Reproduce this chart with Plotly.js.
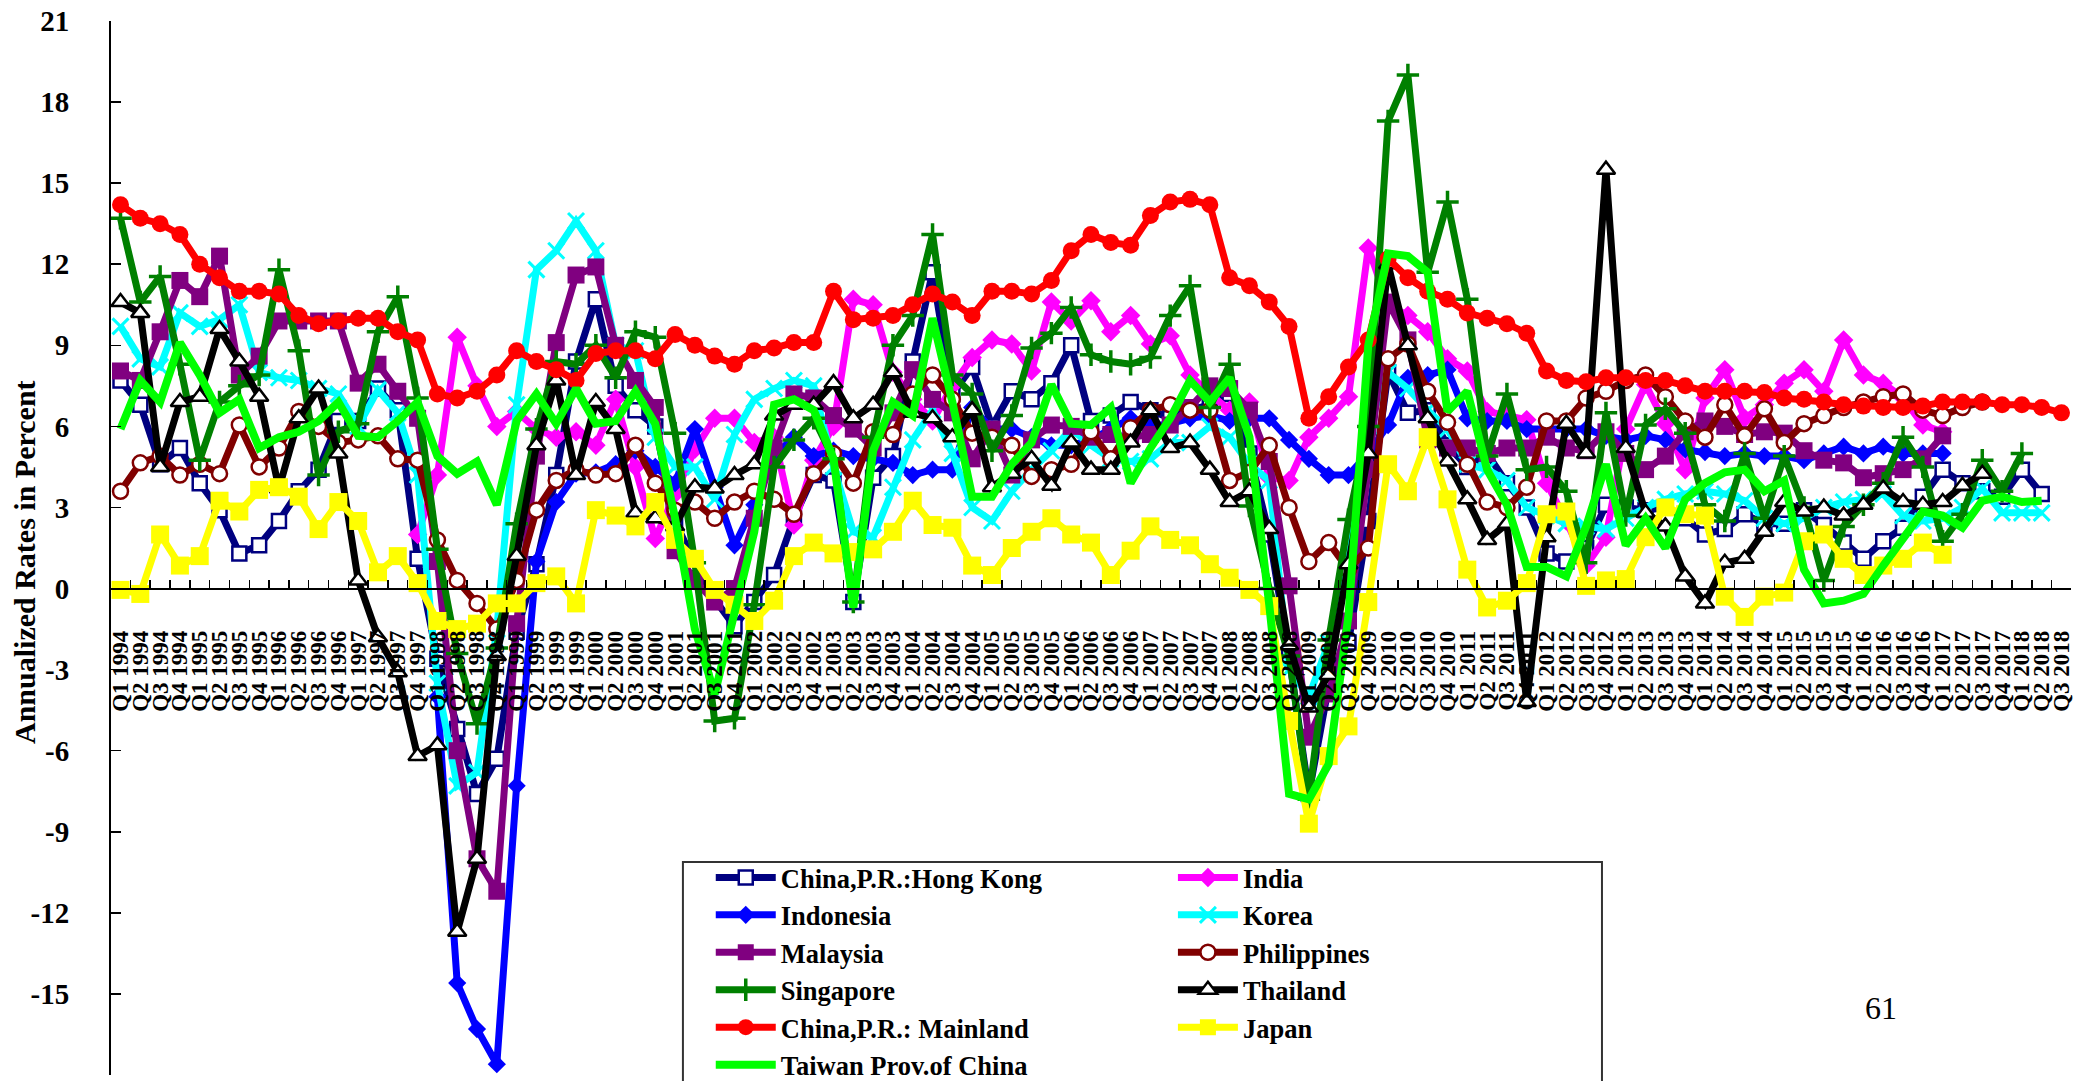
<!DOCTYPE html>
<html>
<head>
<meta charset="utf-8">
<script src="https://cdn.plot.ly/plotly-3.0.1.min.js"></script>
<style>
  html, body { margin: 0; padding: 0; background: #ffffff; }
  #chart { width: 2080px; height: 1081px; }
</style>
</head>
<body>
<div id="chart"></div>
<script>
// Quarter labels, Q1 1994 .. Q3 2018
const quarters = [
  "Q1 1994","Q2 1994","Q3 1994","Q4 1994","Q1 1995","Q2 1995","Q3 1995","Q4 1995",
  "Q1 1996","Q2 1996","Q3 1996","Q4 1996","Q1 1997","Q2 1997","Q3 1997","Q4 1997",
  "Q1 1998","Q2 1998","Q3 1998","Q4 1998","Q1 1999","Q2 1999","Q3 1999","Q4 1999",
  "Q1 2000","Q2 2000","Q3 2000","Q4 2000","Q1 2001","Q2 2001","Q3 2001","Q4 2001",
  "Q1 2002","Q2 2002","Q3 2002","Q4 2002","Q1 2003","Q2 2003","Q3 2003","Q4 2003",
  "Q1 2004","Q2 2004","Q3 2004","Q4 2004","Q1 2005","Q2 2005","Q3 2005","Q4 2005",
  "Q1 2006","Q2 2006","Q3 2006","Q4 2006","Q1 2007","Q2 2007","Q3 2007","Q4 2007",
  "Q1 2008","Q2 2008","Q3 2008","Q4 2008","Q1 2009","Q2 2009","Q3 2009","Q4 2009",
  "Q1 2010","Q2 2010","Q3 2010","Q4 2010","Q1 2011","Q2 2011","Q3 2011","Q4 2011",
  "Q1 2012","Q2 2012","Q3 2012","Q4 2012","Q1 2013","Q2 2013","Q3 2013","Q4 2013",
  "Q1 2014","Q2 2014","Q3 2014","Q4 2014","Q1 2015","Q2 2015","Q3 2015","Q4 2015",
  "Q1 2016","Q2 2016","Q3 2016","Q4 2016","Q1 2017","Q2 2017","Q3 2017","Q4 2017",
  "Q1 2018","Q2 2018","Q3 2018"
];

// Annualized growth rates, percent (one value per quarter, starting Q1 1994)
const hongKong = [
  7.7, 6.8, 4.6, 5.2, 3.9, 2.9, 1.3, 1.6, 2.5, 3.6, 4.4, 6.2, 6.2, 7.4, 6.6, 1.1, -2.6,
  -5.2, -7.6, -6.3, -1.6, 0.9, 4.2, 8.4, 10.7, 7.5, 6.6, 6.0, 2.5, 0.9, -0.4, -1.4, -0.5, 0.5,
  2.6, 4.2, 4.0, -0.5, 4.1, 4.9, 8.4, 11.7, 7.2, 8.2, 6.0, 7.3, 7.0, 7.6, 9.0, 6.2,
  6.4, 6.9, 6.6, 6.3, 6.6, 6.8, 7.2, 5.0, 2.0, -2.5, -7.6, -3.6, -2.0, 2.5, 8.0, 6.5, 6.6,
  5.3, 4.5, 5.0, 3.9, 3.0, 1.3, 1.0, 1.5, 3.1, 3.0, 2.9, 3.0, 2.6, 2.0,
  2.2, 2.75, 2.4, 2.4, 2.9, 2.35, 1.7, 1.1, 1.75, 2.25, 3.4, 4.4, 3.9, 3.6, 3.4, 4.4, 3.5
];
const india = [
  null, null, null, null, null, null, null, null, null, null, null, null, null, null, null,
  2.0, 4.2, 9.3, 7.5, 6.0, 6.55, 5.9, 5.6, 5.8, 5.3, 7.0, 4.5, 1.85, 3.5, 5.15, 6.3, 6.3, 5.4, 5.6,
  2.35, 4.75, 6.0, 10.7, 10.5, 8.0, 7.0, 6.2, 7.5, 8.55, 9.2, 9.05, 8.05, 10.6, 9.9,
  10.65, 9.5, 10.1, 9.05, 9.35, 7.9, 7.2, 6.6, 6.9, 4.1, 4.0, 5.6, 6.3, 7.1, 12.6, 10.5,
  10.1, 9.5, 8.5, 8.05, 6.55, 6.4, 6.25, 3.9, 2.5, 0.85, 1.9, 5.9, 7.55, 6.1, 4.4, 7.05,
  8.1, 6.3, 6.8, 7.6, 8.1, 7.3, 9.2, 7.9, 7.6, 7.05, 6.05, 5.8
];
const indonesia = [
  null, null, null, null, null, null, null, null, null, null, null, null, null, null, null, null,
  -4.0, -14.6, -16.3, -17.6, -7.3, 1.0, 3.2, 4.25, 4.3, 4.6, 5.1, 4.5, 3.9, 5.9, 3.75, 1.6, 3.1, 4.9,
  5.6, 4.9, 5.1, 4.9, 4.8, 4.65, 4.2, 4.4, 4.4, 6.7, 5.9, 5.9, 5.6, 5.3,
  5.3, 5.5, 5.9, 6.3, 6.0, 6.1, 6.3, 6.4, 6.2, 6.3, 6.3, 5.5, 4.8, 4.2, 4.2, 5.0, 6.05,
  7.8, 7.9, 8.1, 6.3, 6.2, 6.2, 5.9, 5.9, 5.9, 5.9, 5.65, 5.5, 5.65, 5.5, 5.15, 5.05,
  4.9, 5.0, 4.9, 4.9, 4.75, 5.0, 5.25, 5.0, 5.25, 5.0, 5.0, 5.0
];
const korea = [
  9.7, 8.5, 8.2, 10.2, 9.7, 9.95, 10.5, 8.0, 7.8, 7.7, 7.4, 7.2, 6.0, 7.35, 6.5, 4.2, -3.5,
  -7.3, -6.8, -1.5, 6.8, 11.8, 12.5, 13.6, 12.5, 9.0, 8.8, 5.6, 4.5, 4.5, 3.3, 5.7, 7.0, 7.4,
  7.7, 7.5, 4.5, 2.1, 1.9, 3.75, 5.5, 6.6, 5.0, 3.0, 2.5, 3.6, 4.4, 5.1, 5.9, 5.3,
  4.8, 4.7, 4.8, 5.4, 5.4, 6.0, 5.6, 4.6, 4.0, -3.0, -4.0, -2.0, 1.0, 6.0, 8.0, 7.4, 6.6,
  5.9, 4.6, 4.4, 4.0, 3.0, 2.7, 2.4, 2.3, 2.2, 2.6, 3.0, 3.3, 3.5, 3.6,
  3.5, 3.25, 2.6, 2.4, 2.6, 3.0, 3.2, 3.3, 3.5, 2.7, 2.5, 2.6, 3.0, 3.7, 2.8, 2.8, 2.8
];
const malaysia = [
  8.05, 7.7, 9.5, 11.4, 10.8, 12.3, 7.9, 8.6, 9.9, 9.9, 9.9, 9.9, 7.6, 8.3, 7.3, 6.3, 1.0,
  -6.0, -10.0, -11.2, -1.3, 4.9, 9.1, 11.6, 11.9, 9.0, 7.7, 6.7, 1.4, 0.3, -0.5, 0.0, 2.6, 5.2,
  7.2, 7.05, 6.4, 5.9, 5.2, 6.5, 8.1, 7.0, 6.5, 4.8, 5.9, 4.2, 5.5, 6.05, 6.0, 5.6, 5.7,
  5.6, 5.7, 6.05, 6.7, 7.5, 7.4, 6.6, 4.7, 0.1, -5.5, -3.9, -1.2, 4.4, 10.6, 9.2, 5.5,
  5.2, 5.2, 5.0, 5.2, 5.2, 5.6, 5.2, 5.1, 5.8, 5.0, 4.4, 4.9, 5.8, 6.2,
  6.0, 5.7, 5.8, 5.75, 5.1, 4.75, 4.65, 4.1, 4.25, 4.4, 4.8, 5.65
];
const philippines = [
  3.6, 4.65, 4.9, 4.2, 4.6, 4.25, 6.05, 4.5, 5.2, 6.55, 6.0, 5.4, 5.5, 5.65, 4.8, 4.75, 1.8,
  0.3, -0.55, -1.5, 0.3, 2.9, 4.0, 4.4, 4.2, 4.25, 5.3, 3.9, 2.9, 3.2, 2.6, 3.2, 3.6, 3.3,
  2.75, 4.25, 5.0, 3.9, 5.8, 5.7, 7.2, 7.9, 7.0, 5.75, 5.6, 5.3, 4.15, 4.4, 4.6, 5.8, 4.8,
  5.95, 6.6, 6.8, 6.6, 6.6, 4.0, 4.3, 5.3, 3.0, 1.0, 1.7, 0.7, 1.5, 8.5, 9.05, 7.3,
  6.15, 4.6, 3.2, 3.0, 3.75, 6.2, 6.2, 7.05, 7.3, 7.7, 7.9, 7.1, 6.2, 5.6,
  6.8, 5.65, 6.65, 5.4, 6.1, 6.4, 6.7, 6.9, 7.1, 7.2, 6.6, 6.4, 6.7, 6.9
];
const singapore = [
  13.7, 10.6, 11.55, 8.3, 4.75, 6.9, 7.5, 7.9, 11.8, 8.8, 4.2, 5.8, 6.1, 9.5, 10.8, 7.05, 1.45,
  -2.4, -5.0, -2.2, 2.4, 5.9, 8.4, 8.3, 9.0, 7.8, 9.5, 9.3, 5.75, 0.95, -4.9, -4.8, -0.6, 4.5,
  5.5, 6.3, 4.8, -0.5, 5.6, 9.0, 10.1, 13.1, 7.9, 7.2, 5.1, 6.4, 8.9, 9.45, 10.4, 8.65, 8.4,
  8.3, 8.55, 10.1, 11.2, 6.7, 8.3, 3.05, 0.0, -2.5, -7.8, -1.9, 2.55, 6.0, 17.3, 19.0, 11.7,
  14.3, 10.7, 4.9, 7.2, 4.4, 4.5, 3.6, 0.95, 6.5, 2.7, 6.05, 6.65, 5.75, 3.1, 2.5, 5.0,
  2.6, 4.9, 3.0, 0.3, 2.3, 3.1, 3.9, 5.6, 4.5, 1.75, 2.75, 4.75, 3.6, 5.0
];
const thailand = [
  10.6, 10.2, 4.5, 6.9, 7.1, 9.6, 8.4, 7.1, 3.7, 6.3, 7.4, 5.0, 0.3, -1.8, -3.1, -6.2, -5.8,
  -12.7, -10.0, -2.5, 1.2, 5.3, 7.7, 4.2, 6.9, 5.9, 2.8, 2.6, 2.3, 3.75, 3.7, 4.2, 4.6, 6.4,
  6.8, 6.8, 7.6, 6.3, 6.8, 8.0, 6.5, 6.3, 5.6, 6.6, 3.75, 4.25, 4.8, 3.8, 5.4, 4.4, 4.4,
  5.4, 6.6, 5.2, 5.4, 4.4, 3.2, 3.6, 2.2, -2.1, -4.4, -3.2, 0.9, 5.0, 12.0, 9.0, 6.3,
  4.7, 3.3, 1.8, 2.4, -4.2, 1.9, 6.1, 5.0, 15.5, 5.2, 2.8, 2.3, 0.45, -0.55, 0.95, 1.1,
  2.1, 3.2, 2.85, 3.0, 2.7, 3.1, 3.7, 3.2, 3.1, 3.2, 3.8, 4.25
];
const mainland = [
  14.2, 13.7, 13.5, 13.1, 12.0, 11.5, 11.0, 11.0, 10.9, 10.1, 9.8, 9.9, 10.0, 10.0, 9.5, 9.2, 7.2,
  7.05, 7.3, 7.9, 8.8, 8.4, 8.1, 7.7, 8.7, 8.8, 8.8, 8.5, 9.4, 9.0, 8.6, 8.3, 8.8,
  8.9, 9.1, 9.1, 11.0, 9.95, 10.0, 10.1, 10.5, 10.9, 10.6, 10.1, 11.0, 11.0, 10.9, 11.4, 12.5,
  13.1, 12.8, 12.7, 13.8, 14.3, 14.4, 14.2, 11.5, 11.2, 10.6, 9.7, 6.3, 7.1, 8.2, 9.2, 12.2,
  11.5, 11.0, 10.7, 10.2, 10.0, 9.8, 9.45, 8.05, 7.7, 7.65, 7.8, 7.8, 7.7, 7.7, 7.5, 7.3, 7.3, 7.3,
  7.25, 7.05, 7.0, 6.9, 6.8, 6.75, 6.7, 6.7, 6.75, 6.9, 6.9, 6.9, 6.8, 6.8, 6.7, 6.5
];
const japan = [
  -0.05, -0.2, 2.0, 0.85, 1.2, 3.25, 2.85, 3.65, 3.75, 3.4, 2.2, 3.2, 2.5, 0.6, 1.2, 0.2, -1.2,
  -1.5, -1.3, -0.55, -0.55, 0.2, 0.45, -0.55, 2.9, 2.7, 2.3, 3.2, 1.8, 1.1, -0.05, -0.6, -1.2,
  -0.45, 1.2, 1.7, 1.3, 1.35, 1.45, 2.1, 3.25, 2.35, 2.25, 0.85, 0.5, 1.5, 2.1, 2.6, 2.0,
  1.7, 0.5, 1.4, 2.3, 1.8, 1.6, 0.9, 0.4, -0.05, -0.65, -4.9, -8.7, -6.2, -5.1, -0.5, 4.6,
  3.6, 5.6, 3.3, 0.7, -0.7, -0.45, 0.2, 2.75, 2.85, 0.1, 0.3, 0.35, 1.9, 3.0, 2.75, 2.7,
  -0.3, -1.05, -0.3, -0.15, 1.75, 2.0, 1.1, 0.5, 0.85, 1.1, 1.7, 1.25
];
const taiwan = [
  5.9, 7.7, 6.9, 9.1, 7.9, 6.5, 7.0, 5.2, 5.6, 5.8, 6.2, 6.9, 5.65, 5.6, 6.2, 6.9, 4.9,
  4.25, 4.7, 3.1, 6.2, 7.2, 6.1, 7.4, 6.1, 6.2, 7.3, 6.1, 2.6, -1.5, -3.9, -1.0, 2.1, 6.8,
  7.0, 6.6, 4.8, -0.7, 5.1, 6.9, 6.4, 10.0, 6.9, 3.4, 3.4, 4.6, 5.4, 7.55, 6.1, 6.05, 6.7,
  3.9, 5.2, 6.3, 7.7, 6.9, 7.8, 5.6, -0.6, -7.6, -7.8, -6.5, -1.0, 9.0, 12.4, 12.3, 11.7,
  6.55, 7.3, 4.4, 3.1, 0.8, 0.8, 0.45, 2.3, 4.6, 1.6, 2.6, 1.5, 3.3, 3.9, 4.3, 4.4,
  3.6, 4.0, 0.7, -0.55, -0.45, -0.2, 0.85, 1.9, 2.85, 2.7, 2.25, 3.25, 3.4, 3.2, 3.25
];

const yTickValues = [-18, -15, -12, -9, -6, -3, 0, 3, 6, 9, 12, 15, 18, 21];
const yTickLabels = ["-18", "-15", "-12", "-9", "-6", "-3", "0", "3", "6", "9", "12", "15", "18", "21"];

const serif = '"Liberation Serif", "Times New Roman", Times, serif';

function series(name, values, color, marker, legendId, width) {
  const t = {
    type: 'scatter',
    x: quarters.slice(0, values.length),
    y: values,
    name: name,
    legend: legendId,
    mode: marker ? 'lines+markers' : 'lines',
    line: { color: color, width: width || 7 },
    connectgaps: false,
    cliponaxis: false,
    hoverinfo: 'skip'
  };
  if (marker) t.marker = marker;
  return t;
}

const traces = [
  series('China,P.R.:Hong Kong', hongKong, '#000080',
    { symbol: 'square', size: 14, color: '#ffffff', line: { color: '#000080', width: 2.5 } }, 'legend'),
  series('India', india, '#FF00FF',
    { symbol: 'diamond', size: 15, color: '#FF00FF', line: { width: 0 } }, 'legend2'),
  series('Indonesia', indonesia, '#0000FF',
    { symbol: 'diamond', size: 14, color: '#0000FF', line: { width: 0 } }, 'legend'),
  series('Korea', korea, '#00FFFF',
    { symbol: 'x-thin', size: 16, color: '#00FFFF', line: { color: '#00FFFF', width: 3 } }, 'legend2'),
  series('Malaysia', malaysia, '#800080',
    { symbol: 'square', size: 17, color: '#800080', line: { width: 0 } }, 'legend'),
  series('Philippines', philippines, '#800000',
    { symbol: 'circle', size: 15, color: '#ffffff', line: { color: '#800000', width: 2.5 } }, 'legend2'),
  series('Singapore', singapore, '#008000',
    { symbol: 'cross-thin', size: 16, color: '#008000', line: { color: '#008000', width: 3.5 } }, 'legend'),
  series('Thailand', thailand, '#000000',
    { symbol: 'triangle-up', size: 16, color: '#ffffff', line: { color: '#000000', width: 2.5 } }, 'legend2'),
  series('China,P.R.: Mainland', mainland, '#FF0000',
    { symbol: 'circle', size: 17, color: '#FF0000', line: { width: 0 } }, 'legend'),
  series('Japan', japan, '#FFFF00',
    { symbol: 'square', size: 18, color: '#FFFF00', line: { width: 0 } }, 'legend2'),
  series('Taiwan Prov.of China', taiwan, '#00FF00', null, 'legend', 8)
];

const legendFont = { family: serif, size: 26.5, color: '#000000', weight: 'bold' };
const legendCommon = {
  orientation: 'v',
  xanchor: 'left',
  yanchor: 'top',
  bgcolor: 'rgba(0,0,0,0)',
  borderwidth: 0,
  itemwidth: 60,
  font: legendFont,
  traceorder: 'normal',
  itemclick: false,
  itemdoubleclick: false
};

const layout = {
  width: 2080,
  height: 1081,
  margin: { l: 111, r: 9, t: 21, b: 6, autoexpand: false },
  paper_bgcolor: '#ffffff',
  plot_bgcolor: '#ffffff',
  showlegend: true,
  xaxis: {
    type: 'category',
    categoryorder: 'array',
    categoryarray: quarters,
    range: [-0.48, 98.48],
    anchor: 'free',
    position: 18 / 39,
    side: 'bottom',
    showline: true,
    linecolor: '#000000',
    linewidth: 2,
    ticks: 'inside',
    ticklen: 8,
    tickwidth: 1.5,
    tickcolor: '#000000',
    tickson: 'boundaries',
    tickmode: 'linear',
    tick0: 0,
    dtick: 1,
    tickangle: -90,
    ticklabelstandoff: 32,
    tickfont: { family: serif, size: 23, color: '#000000', weight: 'bold' },
    showgrid: false,
    zeroline: false,
    fixedrange: true
  },
  yaxis: {
    range: [-18, 21],
    tickmode: 'array',
    tickvals: yTickValues,
    ticktext: yTickLabels,
    ticks: 'inside',
    ticklen: 10,
    tickwidth: 1.5,
    tickcolor: '#000000',
    showline: true,
    linecolor: '#000000',
    linewidth: 2,
    ticklabelstandoff: 34,
    tickfont: { family: serif, size: 29, color: '#000000', weight: 'bold' },
    showgrid: false,
    zeroline: false,
    fixedrange: true
  },
  legend: Object.assign({}, legendCommon, { x: 0.306, y: 0.2100 }),
  legend2: Object.assign({}, legendCommon, { x: 0.5418, y: 0.2100 }),
  shapes: [
    {
      type: 'rect', xref: 'paper', yref: 'paper', layer: 'above',
      x0: 0.2918, x1: 0.7607, y0: -0.06, y1: 0.2021,
      fillcolor: '#ffffff',
      line: { color: '#333333', width: 2 }
    }
  ],
  annotations: [
    {
      text: 'Annualized Rates in Percent',
      xref: 'paper', yref: 'paper',
      x: -0.0444, y: 0.4867,
      xanchor: 'center', yanchor: 'middle',
      textangle: -90,
      showarrow: false,
      font: { family: serif, size: 30, color: '#000000', weight: 'bold' }
    },
    {
      text: '61',
      xref: 'paper', yref: 'paper',
      x: 0.9031, y: 0.0636,
      xanchor: 'center', yanchor: 'middle',
      showarrow: false,
      font: { family: serif, size: 32, color: '#000000' }
    }
  ]
};

Plotly.newPlot('chart', traces, layout, { staticPlot: true, displayModeBar: false });
</script>
</body>
</html>
